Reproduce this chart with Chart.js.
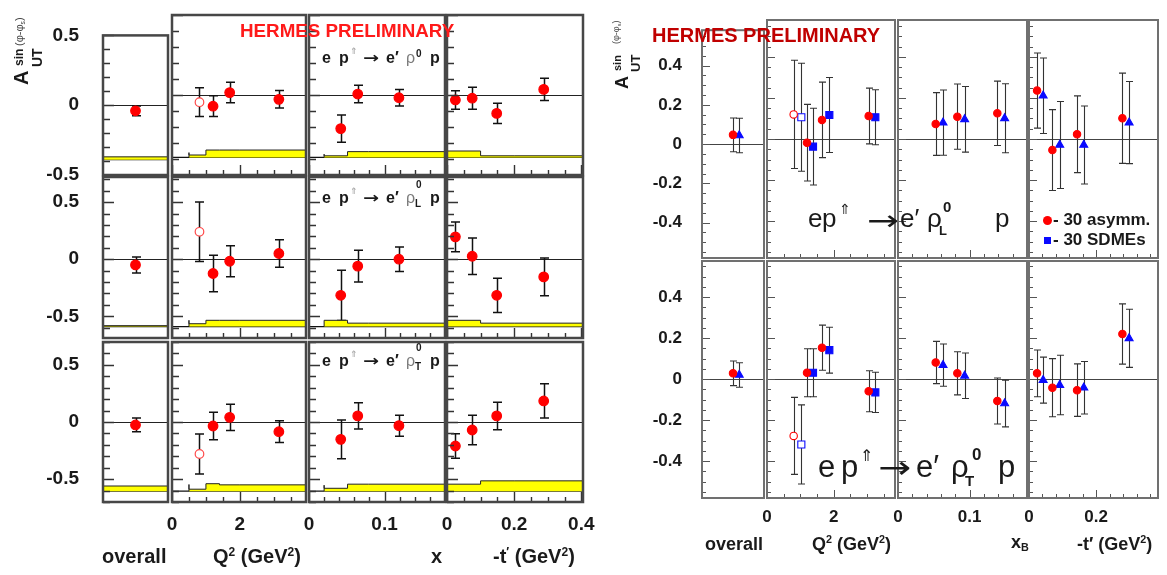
<!DOCTYPE html>
<html>
<head>
<meta charset="utf-8">
<title>HERMES A_UT sin(phi-phi_s)</title>
<script src="https://cdn.jsdelivr.net/npm/chart.js@4.4.1/dist/chart.umd.min.js"></script>
<style>
  html, body { margin: 0; padding: 0; background: #fff; }
  #page { position: relative; width: 1167px; height: 575px; overflow: hidden;
          font-family: "Liberation Sans", Arial, sans-serif; color: #1a1a1a; }
  #page canvas { position: absolute; left: 0; top: 0; }
  .t { position: absolute; white-space: nowrap; line-height: 1; }
  .t sup { font-size: 60%; line-height: 0; vertical-align: baseline; position: relative; top: -0.62em; }
  .t sub { font-size: 60%; line-height: 0; vertical-align: baseline; position: relative; top: 0.3em; }
  .rot { position: absolute; left: 0; top: 0; transform-origin: 0 0; }
  .mk { position: absolute; }
</style>
</head>
<body>
<div id="page"></div>
<script>
// ---------- left figure: rho0 / rhoL / rhoT, one row each ----------
const L_ALL_X = [0.5];
const L_Q2 = [0.81, 1.21, 1.70, 3.15];
const L_X = [0.042, 0.0645, 0.119];
const L_T = [0.025, 0.075, 0.148, 0.288];
const L_Q2_OPEN = [true, false, false, false];

// rho0 (top row)
const r0All = [-0.04], r0AllErr = [0.035];
const r0Q2 = [-0.045, -0.07, 0.015, -0.027], r0Q2Err = [0.09, 0.065, 0.064, 0.055];
const r0X = [-0.21, 0.006, -0.017], r0XErr = [0.085, 0.055, 0.052];
const r0T = [-0.031, -0.02, -0.115, 0.035], r0TErr = [0.058, 0.069, 0.063, 0.07];
// rhoL (middle row)
const rLAll = [-0.05], rLAllErr = [0.07];
const rLQ2 = [0.24, -0.125, -0.018, 0.05], rLQ2Err = [0.26, 0.16, 0.136, 0.12];
const rLX = [-0.316, -0.061, 0.0], rLXErr = [0.22, 0.139, 0.107];
const rLT = [0.196, 0.026, -0.316, -0.155], rLTErr = [0.13, 0.16, 0.15, 0.166];
// rhoT (bottom row)
const rTAll = [-0.026], rTAllErr = [0.06];
const rTQ2 = [-0.28, -0.035, 0.041, -0.085], rTQ2Err = [0.175, 0.12, 0.115, 0.095];
const rTX = [-0.152, 0.053, -0.032], rTXErr = [0.17, 0.115, 0.092];
const rTT = [-0.21, -0.07, 0.053, 0.184], rTTErr = [0.107, 0.13, 0.12, 0.15];

// systematic bands (yellow): bin edges, bottom per row, top per bin
const L_ALL_EDGES = [0, 1];
const L_Q2_EDGES = [0.5, 1.0, 1.4, 2.0, 3.95];
const L_X_EDGES = [0.020, 0.051, 0.079, 0.18];
const L_T_EDGES = [0, 0.1, 0.2, 0.405];
const L_SYS_BASE = [-0.39, -0.59, -0.605];
const r0SysAll = [-0.37], r0SysQ2 = [-0.36, -0.375, -0.344, -0.344], r0SysX = [-0.37, -0.38, -0.354], r0SysT = [-0.365, -0.35, -0.38];
const rLSysAll = [-0.582], rLSysQ2 = [-0.535, -0.565, -0.535, -0.535], rLSysX = [-0.535, -0.535, -0.56], rLSysT = [-0.56, -0.535, -0.56];
const rTSysAll = [-0.56], rTSysQ2 = [-0.547, -0.588, -0.54, -0.55], rTSysX = [-0.553, -0.58, -0.544], rTSysT = [-0.56, -0.544, -0.515];

const L_YLAB = [-0.5, 0, 0.5];
const L_Q2_LAB = [0, 2], L_X_LAB = [0, 0.1], L_T_LAB = [0, 0.2, 0.4];

// ---------- right figure: rhoL / rhoT, 30 asymm. (red) vs 30 SDMEs (blue) ----------
const R_ALL_X = [0.5], R_ALL_X_B = [0.6];
const R_Q2 = [0.80, 1.20, 1.65, 3.05], R_Q2_B = [1.03, 1.38, 1.87, 3.25];
const R_XB = [0.0526, 0.0828, 0.1386], R_XB_B = [0.0628, 0.093, 0.1488];
const R_T = [0.024, 0.0696, 0.143, 0.278], R_T_B = [0.042, 0.0914, 0.163, 0.298];
const R_Q2_OPEN = [true, false, false, false];

// rhoL (top row)
const aLAll = [0.047], aLAllErr = [0.086], sLAll = [0.044], sLAllErr = [0.088];
const aLQ2 = [0.12, -0.018, 0.093, 0.112], aLQ2Err = [0.264, 0.187, 0.184, 0.136];
const sLQ2 = [0.106, -0.037, 0.117, 0.106], sLQ2Err = [0.263, 0.187, 0.183, 0.134];
const aLXB = [0.073, 0.109, 0.125], aLXBErr = [0.153, 0.159, 0.157];
const sLXB = [0.08, 0.096, 0.101], sLXBErr = [0.159, 0.16, 0.168];
const aLT = [0.236, -0.054, 0.023, 0.101], aLTErr = [0.183, 0.197, 0.187, 0.22];
const sLT = [0.211, -0.029, -0.029, 0.08], sLTErr = [0.184, 0.212, 0.19, 0.2];
// rhoT (bottom row)
const aTAll = [0.028], aTAllErr = [0.06], sTAll = [0.02], sTAllErr = [0.06];
const aTQ2 = [-0.277, 0.031, 0.153, -0.059], aTQ2Err = [0.188, 0.117, 0.11, 0.1];
const sTQ2 = [-0.319, 0.031, 0.141, -0.065], sTQ2Err = [0.193, 0.117, 0.112, 0.098];
const aTXB = [0.081, 0.028, -0.107], aTXBErr = [0.103, 0.105, 0.112];
const sTXB = [0.068, 0.016, -0.119], sTXBErr = [0.103, 0.111, 0.114];
const aTT = [0.028, -0.042, -0.054, 0.22], aTTErr = [0.114, 0.142, 0.128, 0.147];
const sTT = [-0.005, -0.029, -0.042, 0.199], sTTErr = [0.112, 0.145, 0.128, 0.142];

const R_YLAB = [-0.4, -0.2, 0, 0.2, 0.4];
const R_Q2_LAB = [0, 2], R_XB_LAB = [0, 0.1], R_T_LAB = [0, 0.2];

// ---------- layout ----------
const W = 1167, H = 575;
const RED = '#ff0000', BLUE = '#0a0aff', YELLOW = '#ffff00';
const FONT = '"Liberation Sans", Arial, sans-serif';
const page = document.getElementById('page');

function pts(xs, ys) { return xs.map((x, i) => ({ x, y: ys[i] })); }

// inward ticks along a scale, minor/major steps and lengths
function ticksAlong(scale, spec, draw) {
  const [minor, major, lMinor, lMajor] = spec;
  const n0 = Math.ceil(scale.min / minor - 1e-6), n1 = Math.floor(scale.max / minor + 1e-6);
  for (let n = n0; n <= n1; n++) {
    const v = n * minor;
    const isMajor = Math.abs(v / major - Math.round(v / major)) < 1e-6;
    draw(Math.round(scale.getPixelForValue(v)) + 0.5, isMajor ? lMajor : lMinor);
  }
}

// frame, ticks, zero line and error bars
const decor = {
  id: 'decor',
  beforeDatasetsDraw(chart, args, o) {
    const { ctx, chartArea: a } = chart;
    const y = chart.scales.y;
    ctx.save();
    const y0 = Math.round(y.getPixelForValue(0)) + 0.5;
    ctx.strokeStyle = o.zero; ctx.lineWidth = 1;
    ctx.beginPath(); ctx.moveTo(a.left, y0); ctx.lineTo(a.right, y0); ctx.stroke();
    ctx.strokeStyle = o.err; ctx.lineWidth = o.errW;
    chart.data.datasets.forEach((ds, i) => {
      if (!ds.errors) return;
      chart.getDatasetMeta(i).data.forEach((el, j) => {
        const v = ds.data[j].y, e = ds.errors[j];
        const px = Math.round(el.x) + 0.5;
        const hi = y.getPixelForValue(v + e), lo = y.getPixelForValue(v - e);
        ctx.beginPath();
        ctx.moveTo(px, hi); ctx.lineTo(px, lo);
        ctx.moveTo(px - o.cap, hi); ctx.lineTo(px + o.cap, hi);
        ctx.moveTo(px - o.cap, lo); ctx.lineTo(px + o.cap, lo);
        ctx.stroke();
      });
    });
    ctx.restore();
  },
  afterDatasetsDraw(chart, args, o) {
    const { ctx, chartArea: a } = chart;
    ctx.save();
    ctx.strokeStyle = o.tick; ctx.lineWidth = o.tickW;
    ctx.beginPath();
    if (o.yt) ticksAlong(chart.scales.y, o.yt, (p, len) => { ctx.moveTo(a.left, p); ctx.lineTo(a.left + len, p); });
    if (o.xt) ticksAlong(chart.scales.x, o.xt, (p, len) => { ctx.moveTo(p, a.bottom); ctx.lineTo(p, a.bottom - len); });
    ctx.stroke();
    ctx.strokeStyle = o.frame; ctx.lineWidth = o.frameW;
    ctx.strokeRect(a.left, a.top, a.right - a.left, a.bottom - a.top);
    ctx.restore();
  }
};

function axis(range, labels, fs, pad, size, isX) {
  return {
    type: 'linear', min: range[0], max: range[1], bounds: 'data',
    display: !!labels,
    grid: { display: false, drawTicks: false },
    border: { display: false },
    ticks: { font: { family: FONT, weight: 'bold', size: fs }, color: '#1a1a1a', padding: pad,
             autoSkip: false, maxRotation: 0, callback: v => String(v) },
    afterBuildTicks: s => { if (labels) s.ticks = labels.map(v => ({ value: v })); },
    afterFit: s => { if (isX) s.height = size; else s.width = size; }
  };
}

function panel(rect, xr, yr, datasets, o) {
  const yW = o.yLab ? 70 : 0, xH = o.xLab ? 40 : 0;
  const cv = document.createElement('canvas');
  cv.width = W; cv.height = H;
  page.appendChild(cv);
  new Chart(cv, {
    type: 'scatter',
    data: { datasets },
    options: {
      responsive: false, animation: false, events: [],
      layout: { autoPadding: false,
                padding: { left: rect[0] - yW, top: rect[1], right: W - rect[2], bottom: H - rect[3] - xH } },
      plugins: { legend: { display: false }, tooltip: { enabled: false }, decor: o },
      scales: { x: axis(xr, o.xLab, o.fs, o.xPad, xH, true), y: axis(yr, o.yLab, o.fs, o.yPad, yW, false) }
    },
    plugins: [decor]
  });
}

function leftMarks(xs, ys, errs, open) {
  return {
    type: 'scatter', data: pts(xs, ys), errors: errs, pointStyle: 'circle',
    pointRadius: xs.map((_, i) => open && open[i] ? 4.3 : 4.8),
    pointBackgroundColor: xs.map((_, i) => open && open[i] ? '#ffffff' : RED),
    pointBorderColor: xs.map((_, i) => open && open[i] ? '#ff4a4a' : RED),
    pointBorderWidth: 1.2
  };
}

function band(edges, tops, base) {
  const d = [{ x: edges[0], y: base }];
  tops.forEach((t, i) => d.push({ x: edges[i], y: t }));
  d.push({ x: edges[edges.length - 1], y: tops[tops.length - 1] });
  d.push({ x: edges[edges.length - 1], y: base });
  return { type: 'line', data: d, stepped: 'after', fill: { value: base }, backgroundColor: YELLOW,
           borderColor: '#222', borderWidth: 1, pointRadius: 0 };
}

function baseLine(range, base) {
  return { type: 'line', data: [{ x: range[0], y: base }, { x: range[1], y: base }],
           borderColor: '#111', borderWidth: 1.3, pointRadius: 0, fill: false };
}

// left figure panels
const L_COLS = [[103, 168], [172, 306], [309, 445], [447, 583]];
const L_ROWS = [[15, 175], [177, 338], [342, 502]];
const L_YRANGE = [[-0.5, 0.5], [-0.69, 0.72], [-0.70, 0.70]];
const L_XRANGE = [[0, 1], [0, 3.95], [0, 0.18], [0, 0.405]];
const L_XTICKS = [null, [0.5, 2, 5, 10], [0.02, 0.1, 5, 10], [0.05, 0.2, 5, 10]];
const L_XLAB = [null, L_Q2_LAB, L_X_LAB, L_T_LAB];
const L_XPOS = [L_ALL_X, L_Q2, L_X, L_T];
const L_EDGES = [L_ALL_EDGES, L_Q2_EDGES, L_X_EDGES, L_T_EDGES];
const L_VALUES = [[r0All, r0Q2, r0X, r0T], [rLAll, rLQ2, rLX, rLT], [rTAll, rTQ2, rTX, rTT]];
const L_ERRORS = [[r0AllErr, r0Q2Err, r0XErr, r0TErr], [rLAllErr, rLQ2Err, rLXErr, rLTErr], [rTAllErr, rTQ2Err, rTXErr, rTTErr]];
const L_SYS = [[r0SysAll, r0SysQ2, r0SysX, r0SysT], [rLSysAll, rLSysQ2, rLSysX, rLSysT], [rTSysAll, rTSysQ2, rTSysX, rTSysT]];

for (let r = 0; r < 3; r++) {
  for (let c = 0; c < 4; c++) {
    const ds = [
      leftMarks(L_XPOS[c], L_VALUES[r][c], L_ERRORS[r][c], c === 1 ? L_Q2_OPEN : null),
      band(L_EDGES[c], L_SYS[r][c], L_SYS_BASE[r]),
      baseLine(L_XRANGE[c], L_SYS_BASE[r])
    ];
    panel([L_COLS[c][0], L_ROWS[r][0], L_COLS[c][1], L_ROWS[r][1]], L_XRANGE[c], L_YRANGE[r], ds, {
      xLab: r === 2 ? L_XLAB[c] : null, yLab: c === 0 ? L_YLAB : null, fs: 19, xPad: 11, yPad: 24,
      yt: [0.1, 0.5, 7, 11], xt: L_XTICKS[c],
      frame: '#474747', frameW: 2.5, tick: '#333', tickW: 1.4, zero: '#222', err: '#111', errW: 1.5, cap: 4.5
    });
  }
}

// right figure panels
function rightMarks(xs, ys, errs, color, style, radius, open) {
  return {
    type: 'scatter', data: pts(xs, ys), errors: errs, pointStyle: style, pointRadius: radius,
    pointBackgroundColor: xs.map((_, i) => open && open[i] ? '#ffffff' : color),
    pointBorderColor: color, pointBorderWidth: 1.1
  };
}

const R_COLS = [[702, 764], [767, 895], [898, 1027], [1029, 1158]];
const R_ROWS = [[20, 258], [261, 498]];
const R_YRANGE = [[-0.58, 0.58], [-0.58, 0.576]];
const R_XRANGE = [[0, 1], [0, 3.84], [0, 0.18], [0, 0.384]];
const R_XTICKS = [null, [0.5, 2, 4, 8], [0.02, 0.1, 4, 8], [0.04, 0.2, 4, 8]];
const R_XLAB = [null, R_Q2_LAB, R_XB_LAB, R_T_LAB];
const R_XPOS = [R_ALL_X, R_Q2, R_XB, R_T];
const R_XPOS_B = [R_ALL_X_B, R_Q2_B, R_XB_B, R_T_B];
const R_ASYM = [[aLAll, aLQ2, aLXB, aLT], [aTAll, aTQ2, aTXB, aTT]];
const R_ASYM_ERR = [[aLAllErr, aLQ2Err, aLXBErr, aLTErr], [aTAllErr, aTQ2Err, aTXBErr, aTTErr]];
const R_SDME = [[sLAll, sLQ2, sLXB, sLT], [sTAll, sTQ2, sTXB, sTT]];
const R_SDME_ERR = [[sLAllErr, sLQ2Err, sLXBErr, sLTErr], [sTAllErr, sTQ2Err, sTXBErr, sTTErr]];

for (let r = 0; r < 2; r++) {
  for (let c = 0; c < 4; c++) {
    const open = c === 1 ? R_Q2_OPEN : null;
    const ds = [
      rightMarks(R_XPOS[c], R_ASYM[r][c], R_ASYM_ERR[r][c], RED, 'circle', 3.7, open),
      rightMarks(R_XPOS_B[c], R_SDME[r][c], R_SDME_ERR[r][c], BLUE, c === 1 ? 'rect' : 'triangle', c === 1 ? 5 : 4.6, open)
    ];
    panel([R_COLS[c][0], R_ROWS[r][0], R_COLS[c][1], R_ROWS[r][1]], R_XRANGE[c], R_YRANGE[r], ds, {
      xLab: r === 1 ? R_XLAB[c] : null, yLab: c === 0 ? R_YLAB : null, fs: 17, xPad: 9, yPad: 20,
      yt: [0.05, 0.2, 4, 8], xt: R_XTICKS[c],
      frame: '#707070', frameW: 2, tick: '#555', tickW: 1, zero: '#444', err: '#333', errW: 1.1, cap: 3.5
    });
  }
}

// ---------- texts ----------
function txt(html, x, base, fs, css, parent) {
  const d = document.createElement('div');
  d.className = 't';
  d.innerHTML = html;
  d.style.cssText = `left:${x}px;top:${(base - 0.8465 * fs).toFixed(1)}px;font-size:${fs}px;` + (css || '');
  (parent || page).appendChild(d);
  return d;
}
// arrow glyph stretched to a given length
function arrow(x, base, fs, len, css) {
  const d = txt('→', x, base, fs, 'font-family:"DejaVu Sans";' + (css || ''));
  const w = d.getBoundingClientRect().width || len;
  d.style.transformOrigin = '0 50%';
  d.style.transform = `scaleX(${(len / w).toFixed(3)})`;
  return d;
}
function rotBox(tx, ty) {
  const d = document.createElement('div');
  d.className = 'rot';
  d.style.transform = `translate(${tx}px, ${ty}px) rotate(-90deg)`;
  page.appendChild(d);
  return d;
}
const B = 'font-weight:bold;';

// left figure
txt('HERMES PRELIMINARY', 240, 38, 18.8, B + 'color:#ff1a1a;');
function leftReaction(base, sub) {
  const x0 = 322, s = B + 'color:#1a1a1a;';
  txt('e', x0, base, 16, s);
  txt('p', x0 + 17, base, 16, s);
  txt('⇑', x0 + 28, base - 8, 9, 'color:#999;');
  arrow(x0 + 41, base + 1, 15, 16, s);
  txt('e′', x0 + 64, base, 16, s);
  txt('ρ', x0 + 84, base, 16, 'color:#7a7a7a;');
  if (sub) {
    txt('0', x0 + 94, base - 15, 10, s);
    txt(sub, x0 + 93, base + 4, 10, s);
  } else {
    txt('0', x0 + 94, base - 6, 10, s);
  }
  txt('p', x0 + 108, base, 16, s);
}
leftReaction(63, null);
leftReaction(203, 'L');
leftReaction(366, 'T');
txt('overall', 102, 563, 20, B);
txt('Q<sup>2</sup> (GeV<sup>2</sup>)', 213, 563, 20, B);
txt('x', 431, 563, 20, B);
txt('-t<sup>′</sup> (GeV<sup>2</sup>)', 493, 563, 20, B);
const ytL = rotBox(10, 86);
txt('A', 1, 18, 20, B, ytL);
txt('UT', 19, 32, 14, B, ytL);
txt('sin', 20, 13, 12, B, ytL);
txt('(φ-φ<sub>s</sub>)', 40, 13, 11, 'color:#444;', ytL);

// right figure
txt('HERMES PRELIMINARY', 652, 41.7, 20, B + 'color:#c00000;');
txt('e', 808, 227, 26); txt('p', 822, 227, 26); txt('⇑', 839, 214, 14);
arrow(867, 231, 28, 32); txt('e′', 900, 227, 26); txt('ρ', 927, 227, 26);
txt('L', 939, 235, 13, B); txt('0', 943, 212, 15, B); txt('p', 995, 227, 26);
txt('e', 818, 477, 31); txt('p', 841, 477, 31); txt('⇑', 860, 461, 16);
arrow(878, 478, 31, 33); txt('e′', 916, 477, 31); txt('ρ', 951, 477, 31);
txt('T', 965, 486, 15, B); txt('0', 972, 460, 17, B); txt('p', 998, 477, 31);

const dot = document.createElement('div');
dot.className = 'mk';
dot.style.cssText = `left:1042.5px;top:215.5px;width:9px;height:9px;border-radius:50%;background:${RED};`;
page.appendChild(dot);
const sq = document.createElement('div');
sq.className = 'mk';
sq.style.cssText = `left:1043.5px;top:236.5px;width:7px;height:7px;background:${BLUE};`;
page.appendChild(sq);
txt('- 30 asymm.', 1053, 225, 17, B);
txt('- 30 SDMEs', 1053, 245, 17, B);

txt('overall', 705, 550, 18, B);
txt('Q<sup>2</sup> (GeV<sup>2</sup>)', 812, 550, 18, B);
txt('x<sub>B</sub>', 1011, 548, 18, B);
txt('-t′ (GeV<sup>2</sup>)', 1077, 550, 18, B);
const ytR = rotBox(610, 90);
txt('A', 1, 18, 18, B, ytR);
txt('UT', 18, 30, 13, B, ytR);
txt('sin', 19, 11, 11, B, ytR);
txt('(φ-φ<sub>s</sub>)', 46, 10, 9, 'color:#444;', ytR);
</script>
</body>
</html>
